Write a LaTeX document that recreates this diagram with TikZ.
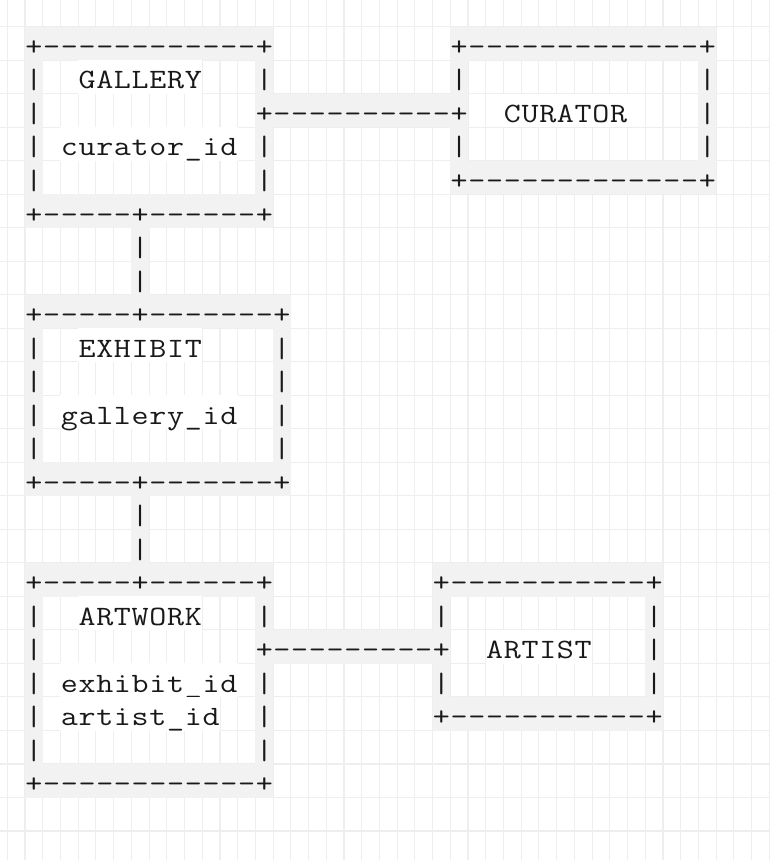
\documentclass[tikz,border=0pt]{standalone}
\usepackage{fontspec}
\usetikzlibrary{calc}

\tikzset{
  cell/.style={inner sep=0pt, minimum width=17.9pt, text height=28.8pt, text depth=4.9pt,
    font=\ttfamily\fontsize{28}{30}\selectfont, text=black!90},
  edgechar/.style={cell, fill=gray!10},
  wordchar/.style={cell, fill=white},
  gridline/.style={draw=gray!13, line width=1.1pt}
}
% one character, a bit wider than the font draws it
\newcommand\glyph[1]{\scalebox{1.18}[1]{#1}}

% box of + - | characters: name, col, row, width, height
\newcommand\asciibox[5]{%
  \pgfmathtruncatemacro\rc{#2+#4}%
  \pgfmathtruncatemacro\rr{#3+#5}%
  \pgfmathtruncatemacro\ca{#2+1}\pgfmathtruncatemacro\cb{#2+#4-1}%
  \pgfmathtruncatemacro\ra{#3+1}\pgfmathtruncatemacro\rb{#3+#5-1}%
  \foreach \c in {\ca,...,\cb} {
    \node[edgechar] (#1t\c) at (\c,#3) {\glyph{-}};
    \node[edgechar] (#1b\c) at (\c,\rr) {\glyph{-}};
  }
  \foreach \r in {\ra,...,\rb} {
    \node[edgechar] (#1l\r) at (#2,\r) {\glyph{|}};
    \node[edgechar] (#1r\r) at (\rc,\r) {\glyph{|}};
  }
  \node[edgechar] (#1-nw) at (#2,#3) {\glyph{+}};
  \node[edgechar] (#1-ne) at (\rc,#3) {\glyph{+}};
  \node[edgechar] (#1-sw) at (#2,\rr) {\glyph{+}};
  \node[edgechar] (#1-se) at (\rc,\rr) {\glyph{+}};
}
% horizontal link: name, row, from col, to col
\newcommand\asciihline[4]{%
  \pgfmathtruncatemacro\ca{#3+1}\pgfmathtruncatemacro\cb{#4-1}%
  \foreach \c in {\ca,...,\cb}
    \node[edgechar] (#1\c) at (\c,#2) {\glyph{-}};
  \node[edgechar] (#1-a) at (#3,#2) {\glyph{+}};
  \node[edgechar] (#1-b) at (#4,#2) {\glyph{+}};
}
% vertical link: name, col, from row, to row
\newcommand\asciivline[4]{%
  \pgfmathtruncatemacro\ra{#3+1}\pgfmathtruncatemacro\rb{#4-1}%
  \foreach \r in {\ra,...,\rb}
    \node[edgechar] (#1\r) at (#2,\r) {\glyph{|}};
  \node[edgechar] (#1-a) at (#2,#3) {\glyph{+}};
  \node[edgechar] (#1-b) at (#2,#4) {\glyph{+}};
}
% a word, one letter per cell: name, col, row, letters
\newcommand\asciiword[4]{%
  \foreach \ch [count=\k from 0] in {#4}
    \node[wordchar] (#1\k) at (#2+\k,#3) {\glyph{\ch}};
}

\begin{document}
\begin{tikzpicture}[x=17.72pt,y=-33.51pt]
  \useasboundingbox (-1.913,-1.298) rectangle (41.54,24.366);

  % background grid
  \foreach \i in {-1.5,-0.5,...,41.5}
    \draw[gridline] (\i,-1.298) -- (\i,24.366);
  \foreach \j in {-0.5,0.5,...,23.5}
    \draw[gridline] (-1.913,\j) -- (41.54,\j);

  % tables
  \asciibox{gallery}{0}{0}{13}{5}
  \asciibox{curator}{24}{0}{14}{4}
  \asciibox{exhibit}{0}{8}{14}{5}
  \asciibox{artwork}{0}{16}{13}{6}
  \asciibox{artist}{23}{16}{12}{4}

  % links
  \asciihline{galcur}{2}{13}{24}
  \asciivline{galexh}{6}{5}{8}
  \asciivline{exhart}{6}{13}{16}
  \asciihline{artart}{18}{13}{23}

  % texts
  \asciiword{galleryname}{3}{1}{G,A,L,L,E,R,Y}
  \asciiword{galleryfk}{2}{3}{c,u,r,a,t,o,r,\_,i,d}
  \asciiword{curatorname}{27}{2}{C,U,R,A,T,O,R}
  \asciiword{exhibitname}{3}{9}{E,X,H,I,B,I,T}
  \asciiword{exhibitfk}{2}{11}{g,a,l,l,e,r,y,\_,i,d}
  \asciiword{artworkname}{3}{17}{A,R,T,W,O,R,K}
  \asciiword{artworkfka}{2}{19}{e,x,h,i,b,i,t,\_,i,d}
  \asciiword{artworkfkb}{2}{20}{a,r,t,i,s,t,\_,i,d}
  \asciiword{artistname}{26}{18}{A,R,T,I,S,T}
\end{tikzpicture}
\end{document}
